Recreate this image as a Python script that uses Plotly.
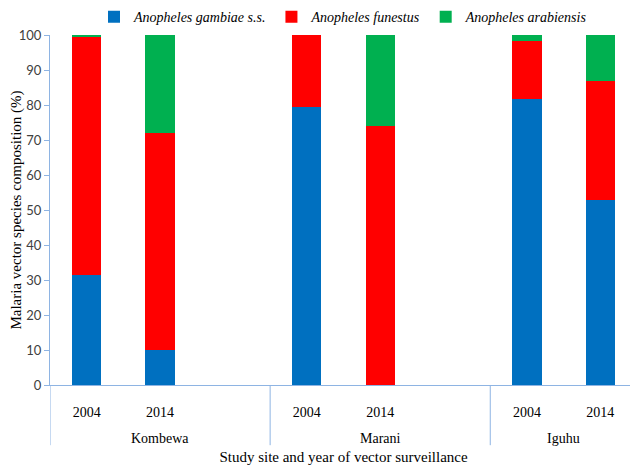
import plotly.graph_objects as go

slots = ["K2004", "K2014", "Kgap", "M2004", "M2014", "Mgap", "I2004", "I2014"]
year_labels = ["2004", "2014", "", "2004", "2014", "", "2004", "2014"]
site_names = ["Kombewa", "Marani", "Iguhu"]
site_centers = [1.0, 4.0, 6.5]
site_bounds = [-0.5, 2.5, 5.5, 7.5]
gambiae = [31.5, 10.0, None, 79.3, 0.0, None, 81.7, 53.0]
funestus = [68.0, 62.0, None, 20.7, 74.0, None, 16.5, 34.0]
arabiensis = [0.5, 28.0, None, 0.0, 26.0, None, 1.8, 13.0]

series = [
    ("<i>Anopheles gambiae s.s.</i>", gambiae, "#0070C0"),
    ("<i>Anopheles funestus</i>", funestus, "#FF0000"),
    ("<i>Anopheles arabiensis</i>", arabiensis, "#00B050"),
]

serif = "Liberation Serif, Times New Roman, serif"
axis_col = "#8EB4E3"

fig = go.Figure()
for name, vals, col in series:
    fig.add_trace(go.Bar(x=slots, y=vals, name=name,
                         marker=dict(color=col, line=dict(width=0))))

shapes = [dict(type="line", xref="x", yref="paper", x0=b, x1=b, y0=0, y1=-0.172,
               line=dict(color=axis_col, width=1)) for b in site_bounds]
annotations = [dict(text=s, x=c, xref="x", y=-0.152, yref="paper", showarrow=False,
                    yanchor="middle", font=dict(family=serif, size=14, color="black"))
               for s, c in zip(site_names, site_centers)]

# the page body adds an 8px offset, so the figure is sized to land on the 638x465 frame
fig.update_layout(
    barmode="stack",
    bargap=0.6,
    width=630, height=457,
    margin=dict(l=42, r=1, t=27, b=80, autoexpand=False),
    plot_bgcolor="white", paper_bgcolor="white",
    shapes=shapes, annotations=annotations,
    legend=dict(orientation="h", x=0.5, xanchor="center", xref="paper",
                y=1.005, yanchor="bottom", yref="paper",
                font=dict(family=serif, size=14, color="black"),
                itemwidth=30, traceorder="normal"),
    xaxis=dict(type="category", categoryarray=slots, categoryorder="array",
               range=[-0.5, 7.5], tickvals=slots, ticktext=year_labels,
               showline=True, linecolor=axis_col, linewidth=1,
               tickfont=dict(family=serif, size=14, color="black"),
               ticks="outside", tickcolor="rgba(0,0,0,0)", ticklen=14,
               showgrid=False, automargin=False,
               title=dict(text="Study site and year of vector surveillance",
                          font=dict(family=serif, size=15, color="black"), standoff=34)),
    yaxis=dict(range=[0, 100], dtick=10, showline=True, linecolor=axis_col, linewidth=1,
               ticks="outside", tickcolor=axis_col, ticklen=5, showgrid=False, zeroline=False,
               automargin=False,
               tickfont=dict(family="Lato, Liberation Sans, sans-serif", size=13, color="#404040"),
               title=dict(text="Malaria vector species composition (%)",
                          font=dict(family=serif, size=15, color="black"), standoff=0)),
)

fig.write_html("out.html")
